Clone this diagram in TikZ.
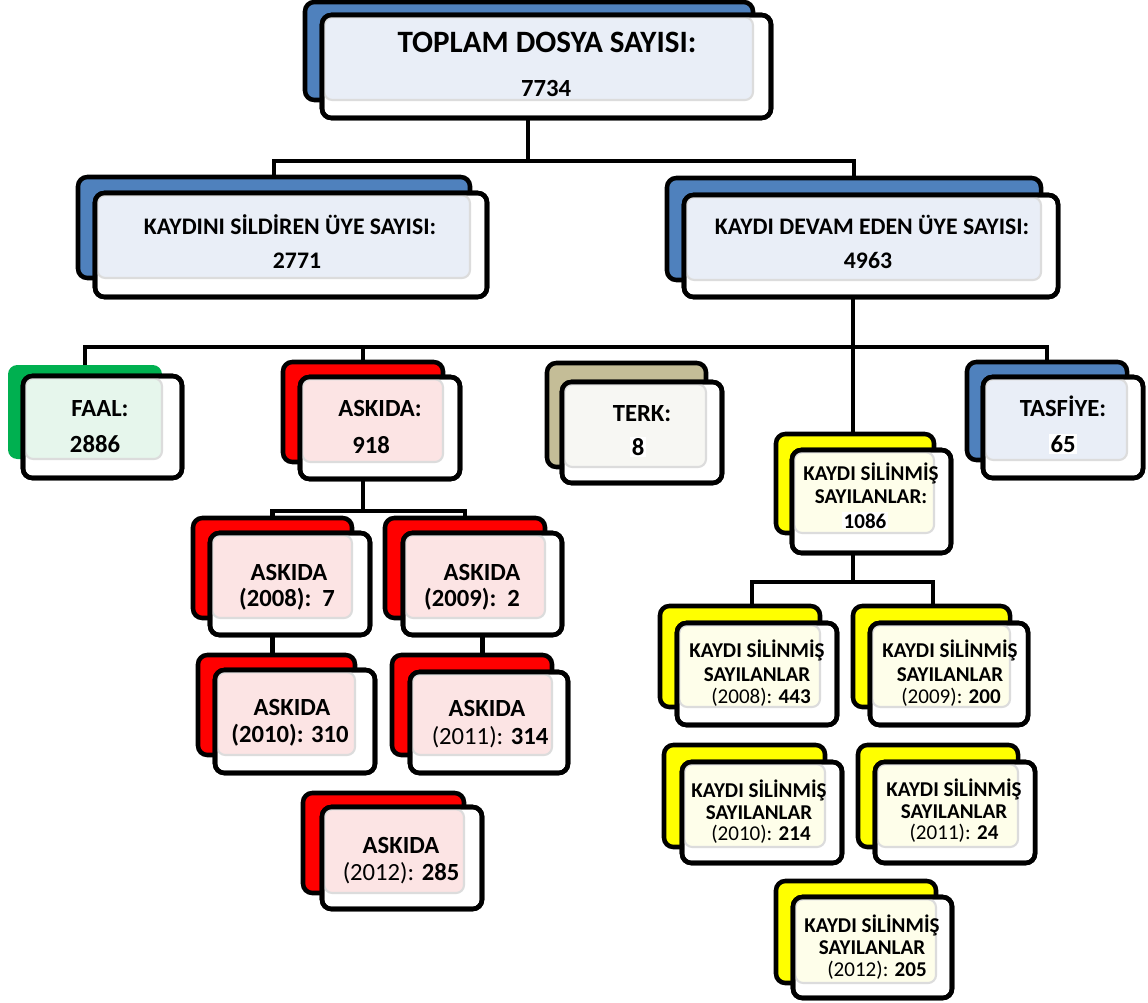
\documentclass[tikz,border=0pt]{standalone}
\usepackage{fontspec}
\setmainfont{Carlito}
\usetikzlibrary{fit}
\definecolor{bluB}{HTML}{4F81BD}
\definecolor{bluT}{HTML}{E9EEF7}
\definecolor{redB}{HTML}{FF0000}
\definecolor{redT}{HTML}{FCE4E4}
\definecolor{grnB}{HTML}{00B050}
\definecolor{grnT}{HTML}{E6F6EC}
\definecolor{tanB}{HTML}{C4BD97}
\definecolor{tanT}{HTML}{F7F7F3}
\definecolor{yelB}{HTML}{FFFF00}
\definecolor{yelT}{HTML}{FEFEEA}
\definecolor{rimG}{HTML}{DCDCDC}
\newcommand\myftop{\fontsize{23.3pt}{28pt}\selectfont\bfseries}
\newcommand\myfnumtop{\fontsize{18.5pt}{22pt}\selectfont\bfseries}
\newcommand\myfltwo{\fontsize{17.8pt}{21pt}\selectfont\bfseries}
\newcommand\myflthree{\fontsize{18.5pt}{22pt}\selectfont\bfseries}
\newcommand\myfks{\fontsize{15.8pt}{18pt}\selectfont\bfseries}
\newcommand\mytwin[5]{%
  \node[backbox,#2,fit={#4}] (#1B) {};
  \node[frontbox,fit={#5}] (#1F) {};
  \draw[tintrim,fill=#3] ([shift={(2.3,2.3)}]#1F.north west) rectangle (#1B.south east);
  \draw[frontline] (#1F.north west) rectangle (#1F.south east);
}
\begin{document}
\begin{tikzpicture}[x=0.75pt,y=-0.75pt,
  backbox/.style={draw=black,line width=3.4pt,rounded corners=7pt,inner sep=0pt,outer sep=0pt},
  frontbox/.style={draw=black,fill=white,line width=3.4pt,rounded corners=7pt,inner sep=0pt,outer sep=0pt},
  frontline/.style={draw=black,line width=3.4pt,rounded corners=7pt},
  tintrim/.style={draw=rimG,line width=1.6pt,rounded corners=6pt},
  conn/.style={draw=black,line width=3.2pt},
  txt/.style={anchor=base,inner sep=0pt,text=black}]
\fill[white] (0,0) rectangle (1148,1002);
\useasboundingbox (0,0) rectangle (1148,1002);

% junction coordinates
\coordinate (j0) at (528,161);
\coordinate (h3) at (853,347);
\coordinate (h4) at (363,511);
\coordinate (h5l) at (752,582);
\coordinate (h5r) at (933,582);

% boxes (back colored, front white with tint)
\mytwin{top}{fill=bluB}{bluT}{(305,2) (753,100)}{(322,15) (771,118)}
\mytwin{lft}{fill=bluB}{bluT}{(78,177) (470,278)}{(95,193) (487,297)}
\mytwin{rgt}{fill=bluB}{bluT}{(667,178) (1041,280)}{(684,195) (1058,297)}
\mytwin{faal}{fill=grnB,draw=none}{grnT}{(8,365) (162,459)}{(23,376) (182,478)}
\mytwin{ask}{fill=redB}{redT}{(283,362) (443,462)}{(300,377) (460,479)}
\mytwin{terk}{fill=tanB}{tanT}{(547,363) (706,467)}{(562,382) (722,483)}
\mytwin{tas}{fill=bluB}{bluT}{(967,362) (1127,460)}{(983,377) (1143,478)}
\mytwin{ks}{fill=yelB}{yelT}{(776,434) (934,533)}{(792,450) (951,553)}
\mytwin{aa}{fill=redB}{redT}{(193,518) (352,618)}{(210,533) (370,635)}
\mytwin{ab}{fill=redB}{redT}{(385,518) (545,618)}{(403,533) (562,635)}
\mytwin{ac}{fill=redB}{redT}{(198,655) (355,755)}{(215,670) (375,773)}
\mytwin{ad}{fill=redB}{redT}{(392,655) (552,755)}{(410,672) (568,773)}
\mytwin{ae}{fill=redB}{redT}{(303,793) (464,893)}{(322,807) (482,909)}
\mytwin{ka}{fill=yelB}{yelT}{(660,606) (820,707)}{(677,623) (837,725)}
\mytwin{kb}{fill=yelB}{yelT}{(853,606) (1010,707)}{(870,623) (1028,725)}
\mytwin{kc}{fill=yelB}{yelT}{(664,745) (825,847)}{(682,762) (842,863)}
\mytwin{kd}{fill=yelB}{yelT}{(858,745) (1018,847)}{(875,762) (1035,863)}
\mytwin{ke}{fill=yelB}{yelT}{(776,881) (936,983)}{(793,897) (952,998)}

% connectors
\draw[conn] (topF.south -| j0) -- (j0);
\draw[conn] (lftB.north) |- (j0) -| (rgtB.north);
\draw[conn] (rgtF.south -| h3) -- (ksB.north -| h3);
\draw[conn] (faalB.north) |- (h3) -| (tasB.north);
\draw[conn] (askB.north) -- (askB.north |- h3);
\draw[conn] (askF.south -| h4) -- (h4);
\draw[conn] (aaB.north) |- (h4) -| (abB.north);
\draw[conn] (aaF.south -| aaB.north) -- (acB.north -| aaB.north);
\draw[conn] (abF.south) -- (adB.north -| abF.south);
\draw[conn] (ksF.south -| h3) -- (h3 |- h5l);
\draw[conn] (kaB.north -| h5l) -- (h5l) -- (h5r) -- (kbB.north -| h5r);

% texts
\node[txt,font=\myftop] (t1) at (547,52.5) {TOPLAM DOSYA SAYISI:};
\node[txt,font=\myfnumtop] (t2) at (546,97) {7734};
\node[txt,font=\myfltwo] (t3) at (290,234) {KAYDINI SİLDİREN ÜYE SAYISI:};
\node[txt,font=\myfltwo] (t4) at (297,268) {2771};
\node[txt,font=\myfltwo] (t5) at (872,234) {KAYDI DEVAM EDEN ÜYE SAYISI:};
\node[txt,font=\myfltwo] (t6) at (868,268) {4963};
\node[txt,font=\myflthree] (t7) at (100,416) {FAAL:};
\node[txt,font=\myflthree] (t8) at (95,452) {2886};
\node[txt,font=\myflthree] (t9) at (380,416) {ASKIDA:};
\node[txt,font=\myflthree] (t10) at (371,453) {918};
\node[txt,font=\myflthree] (t11) at (642,421) {TERK:};
\node[txt,font=\myflthree,fill=white,inner sep=1pt] (t12) at (638,455) {8};
\node[txt,font=\myflthree] (t13) at (1063,416) {TASFİYE:};
\node[txt,font=\myflthree,fill=white,inner sep=1pt] (t14) at (1063,452) {65};
\node[txt,font=\myfks] (t15) at (871,480) {KAYDI SİLİNMİŞ};
\node[txt,font=\myfks] (t16) at (871,503) {SAYILANLAR:};
\node[txt,font=\myfks,fill=white,inner sep=1pt] (t17) at (865,528) {1086};
\node[txt,font=\myflthree] (t18) at (289,580) {ASKIDA};
\node[txt,font=\myflthree] (t19) at (287,606) {(2008):\ \ 7};
\node[txt,font=\myflthree] (t20) at (482,580) {ASKIDA};
\node[txt,font=\myflthree] (t21) at (472,606) {(2009):\ \ 2};
\node[txt,font=\myflthree] (t22) at (292,715) {ASKIDA};
\node[txt,font=\myflthree] (t23) at (290,742) {(2010): 310};
\node[txt,font=\myflthree] (t24) at (487,716) {ASKIDA};
\node[txt,font=\myflthree] (t25) at (490,744) {{\mdseries (2011):} 314};
\node[txt,font=\myflthree] (t26) at (401,853) {ASKIDA};
\node[txt,font=\myflthree] (t27) at (401,880) {{\mdseries (2012):} 285};
\node[txt,font=\myfks] (t28) at (757,657) {KAYDI SİLİNMİŞ};
\node[txt,font=\myfks] (t29) at (757,681) {SAYILANLAR};
\node[txt,font=\myfks] (t30) at (761,703) {{\mdseries (2008):} 443};
\node[txt,font=\myfks] (t31) at (950,657) {KAYDI SİLİNMİŞ};
\node[txt,font=\myfks] (t32) at (950,681) {SAYILANLAR};
\node[txt,font=\myfks] (t33) at (951,703) {{\mdseries (2009):} 200};
\node[txt,font=\myfks] (t34) at (759,797) {KAYDI SİLİNMİŞ};
\node[txt,font=\myfks] (t35) at (759,819) {SAYILANLAR};
\node[txt,font=\myfks] (t36) at (761,840) {{\mdseries (2010):} 214};
\node[txt,font=\myfks] (t37) at (954,796) {KAYDI SİLİNMİŞ};
\node[txt,font=\myfks] (t38) at (954,818) {SAYILANLAR};
\node[txt,font=\myfks] (t39) at (954,839) {{\mdseries (2011):} 24};
\node[txt,font=\myfks] (t40) at (872,932) {KAYDI SİLİNMİŞ};
\node[txt,font=\myfks] (t41) at (872,954) {SAYILANLAR};
\node[txt,font=\myfks] (t42) at (877,976) {{\mdseries (2012):} 205};
\end{tikzpicture}
\end{document}
